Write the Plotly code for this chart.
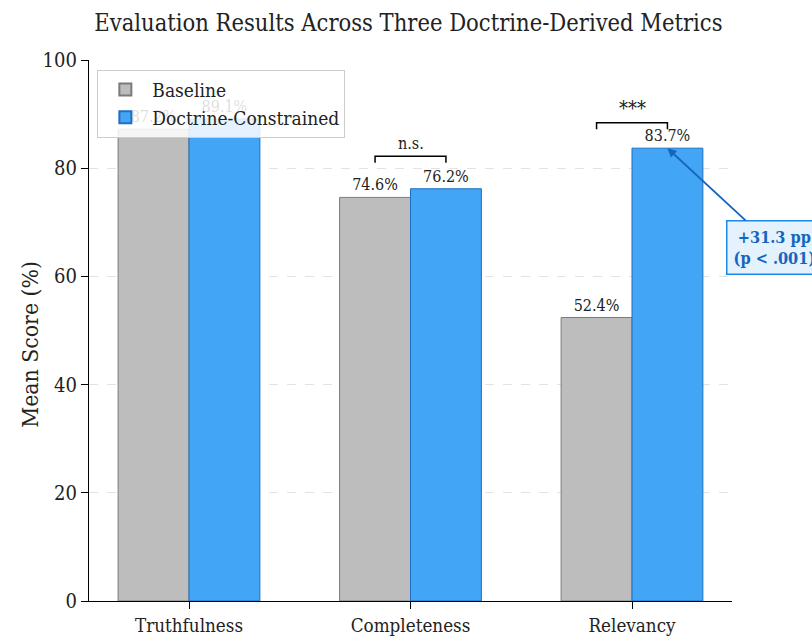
import plotly.graph_objects as go

# Evaluation data (mean scores, %)
metrics = ["Truthfulness", "Completeness", "Relevancy"]
baseline = [87.2, 74.6, 52.4]
doctrine = [89.1, 76.2, 83.7]
significance = ["", "n.s.", "***"]
gain_label = "+31.3 pp"
p_label = "(p &lt; .001)"

FONT = "DejaVu Serif Condensed, DejaVu Serif, serif"
BAR_W = 0.32

fig = go.Figure()
fig.add_trace(go.Bar(
    name="Baseline", x=metrics, y=baseline,
    marker=dict(color="#BDBDBD", line=dict(color="#7a7a7a", width=1)),
    texttemplate="%{y:.1f}%", textposition="outside",
    textfont=dict(family=FONT, size=16, color="#222"), cliponaxis=False,
))
fig.add_trace(go.Bar(
    name="Doctrine-Constrained", x=metrics, y=doctrine,
    marker=dict(color="#42A5F5", line=dict(color="#1E6FC0", width=1)),
    texttemplate="%{y:.1f}%", textposition="outside",
    textfont=dict(family=FONT, size=16, color="#222"), cliponaxis=False,
))

# Significance brackets spanning the two bar centres
bracket_offsets = {1: 6.0, 2: 4.7}
for i, lab in enumerate(significance):
    if not lab:
        continue
    top = max(baseline[i], doctrine[i]) + bracket_offsets[i]
    x0, x1 = i - BAR_W / 2, i + BAR_W / 2
    fig.add_shape(type="path",
                  path=f"M {x0},{top-1.2} L {x0},{top} L {x1},{top} L {x1},{top-1.2}",
                  xref="x", yref="y", line=dict(color="black", width=1.5))
    fig.add_annotation(x=i, y=top, xref="x", yref="y", text=lab, showarrow=False,
                       yanchor="bottom", yshift=1,
                       font=dict(family=FONT, size=16 if lab == "n.s." else 20, color="#222"))

# Gain callout on the Relevancy doctrine bar
fig.add_annotation(
    x=2 + BAR_W / 2, y=doctrine[2], xref="x", yref="y",
    text=f"<b>{gain_label}</b><br><b>{p_label}</b>",
    showarrow=True, arrowhead=2, arrowsize=1, arrowwidth=1.8, arrowcolor="#1565C0",
    ax=107, ay=99, align="center",
    font=dict(family=FONT, size=16.2, color="#1565C0"),
    bgcolor="#E3F2FD", bordercolor="#1E88E5", borderwidth=1.5, borderpad=6,
)

# Y-axis title placed as a rotated annotation
fig.add_annotation(
    x=-0.092, y=0.475, xref="paper", yref="paper", text="Mean Score (%)",
    textangle=-90, showarrow=False, xanchor="center", yanchor="middle",
    font=dict(family=FONT, size=22.8, color="#222"),
)

fig.update_layout(
    width=812, height=643,
    margin=dict(l=89, r=80, t=60, b=42),
    paper_bgcolor="white", plot_bgcolor="white",
    barmode="group", bargap=1 - 2 * BAR_W, bargroupgap=0,
    title=dict(text="Evaluation Results Across Three Doctrine-Derived Metrics",
               x=0.503, xanchor="center", y=0.965, yanchor="middle",
               font=dict(family=FONT, size=23.5, color="#222")),
    font=dict(family=FONT, color="#222"),
    showlegend=True,
    legend=dict(x=0.013, y=0.982, xanchor="left", yanchor="top",
                bgcolor="rgba(255,255,255,0.85)", bordercolor="#cccccc", borderwidth=1,
                font=dict(family=FONT, size=19, color="#222"),
                itemsizing="constant", itemwidth=44),
)
fig.update_xaxes(range=[-0.4515, 2.4515], showline=True, linecolor="black", linewidth=1.3,
                 ticks="outside", ticklen=7, tickcolor="black", showgrid=False,
                 automargin=False,
                 tickfont=dict(family=FONT, size=18.7, color="#222"))
fig.update_yaxes(range=[0, 100], dtick=20, showline=True, linecolor="black", linewidth=1.3,
                 ticks="outside", ticklen=7, tickcolor="black",
                 showgrid=True, gridcolor="#e3e3e3", griddash="dash", gridwidth=1,
                 zeroline=False, automargin=False,
                 tickfont=dict(family=FONT, size=20, color="#222"))

fig.write_html("out.html")
